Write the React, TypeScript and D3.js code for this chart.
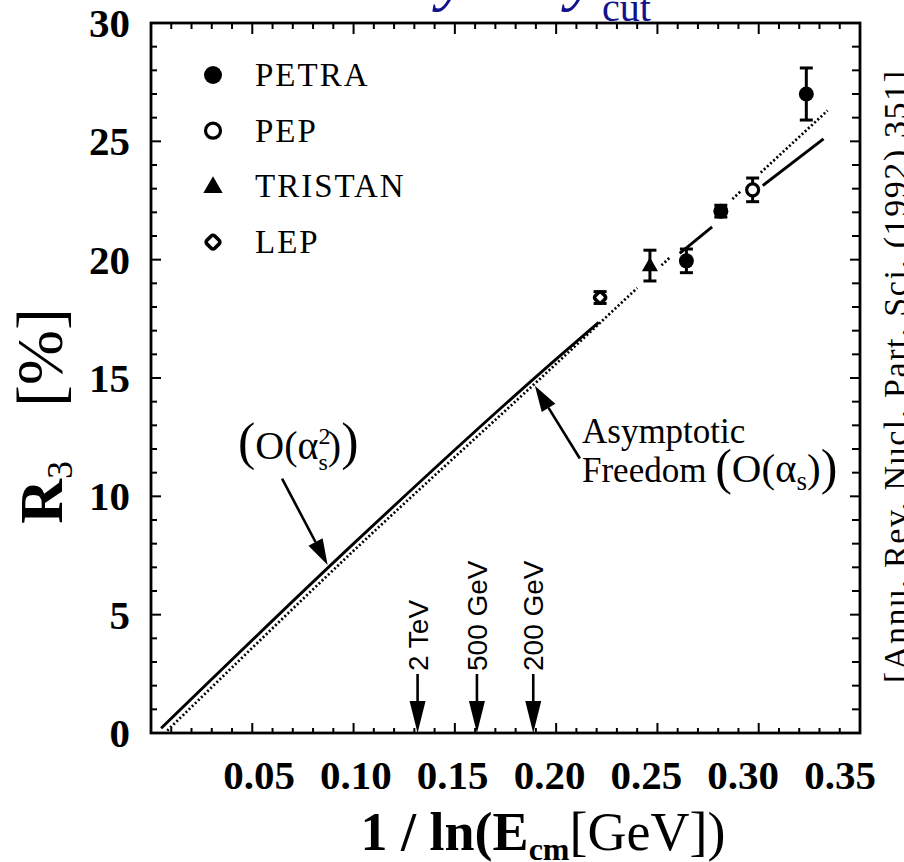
import React from "react";
import * as d3 from "d3";

// ---------- data ----------
const xTickValues = [0.05, 0.1, 0.15, 0.2, 0.25, 0.3, 0.35];
const xTickLabels = ["0.05", "0.10", "0.15", "0.20", "0.25", "0.30", "0.35"];
const yTickValues = [0, 5, 10, 15, 20, 25, 30];
const yTickLabels = ["0", "5", "10", "15", "20", "25", "30"];

const expNames = ["PETRA", "PEP", "TRISTAN", "LEP"];

const pointExp = ["PETRA", "PEP", "PETRA", "PETRA", "TRISTAN", "LEP"];
const pointX = [0.3235, 0.297, 0.2813, 0.2643, 0.2463, 0.2217];
const pointR3 = [27.0, 22.95, 22.05, 19.95, 19.75, 18.4];
const pointErr = [1.1, 0.5, 0.25, 0.5, 0.65, 0.25];

// O(alpha_s^2) curve (solid)
const o2X = [0.005, 0.1, 0.2, 0.25, 0.3, 0.332];
const o2Y = [0.2, 8.0, 15.8, 19.5, 23.0, 25.1];
const o2Visible = [
  [0.005, 0.221],
  [0.261, 0.277],
  [0.302, 0.332],
];
// O(alpha_s) asymptotic freedom curve (dotted)
const o1X = [0.008, 0.1, 0.2, 0.25, 0.3, 0.334];
const o1Y = [0.1, 7.7, 15.6, 19.6, 23.6, 26.3];
const o1Visible = [
  [0.008, 0.24],
  [0.252, 0.256],
  [0.287, 0.291],
  [0.301, 0.334],
];

const energyLabels = ["2 TeV", "500 GeV", "200 GeV"];
const energyX = [0.1316, 0.1609, 0.1887];

// ---------- layout ----------
const W = 904;
const H = 862;
const x = d3.scaleLinear().domain([0, 0.35]).range([151, 860]);
const y = d3.scaleLinear().domain([0, 30]).range([733, 23]);
// tick labels in the original are not exactly under their ticks
const xLabel = d3.scaleLinear().domain([0.05, 0.35]).range([259, 840]);

const SERIF = "'Liberation Serif', 'Times New Roman', serif";
const SANS = "'Liberation Sans', Arial, sans-serif";

function Marker({ exp, cx, cy, s }: { exp: string; cx: number; cy: number; s: number }) {
  if (exp === "PETRA") return <circle cx={cx} cy={cy} r={s / 2} fill="#000" />;
  if (exp === "PEP")
    return <circle cx={cx} cy={cy} r={s / 2 - 1.5} fill="#fff" stroke="#000" strokeWidth={3.2} />;
  if (exp === "TRISTAN") {
    const p = d3.symbol(d3.symbolTriangle, s * s * 0.5)() as string;
    return <path d={p} transform={`translate(${cx},${cy + 1})`} fill="#000" />;
  }
  const a = s * 0.62;
  return (
    <rect
      x={-a / 2}
      y={-a / 2}
      width={a}
      height={a}
      rx={2.5}
      transform={`translate(${cx},${cy}) rotate(45)`}
      fill="#fff"
      stroke="#000"
      strokeWidth={3.6}
    />
  );
}

function segments(xs: number[], ys: number[], vis: number[][]) {
  const f = d3.scaleLinear().domain(xs).range(ys);
  const line = d3
    .line<number>()
    .x((d) => x(d))
    .y((d) => y(f(d)))
    .curve(d3.curveMonotoneX);
  return vis.map(([a, b]) => {
    const pts = [a, ...xs.filter((v) => v > a && v < b), b];
    return line(pts) as string;
  });
}

function Arrow({ x1, y1, x2, y2, hw = 8, hl = 26 }: any) {
  const ang = Math.atan2(y2 - y1, x2 - x1);
  const bx = x2 - hl * Math.cos(ang);
  const by = y2 - hl * Math.sin(ang);
  const px = -Math.sin(ang) * hw;
  const py = Math.cos(ang) * hw;
  return (
    <g>
      <line x1={x1} y1={y1} x2={bx} y2={by} stroke="#000" strokeWidth={2.6} />
      <path d={`M${x2},${y2}L${bx + px},${by + py}L${bx - px},${by - py}Z`} fill="#000" />
    </g>
  );
}

export default function App() {
  const xMinor = d3.range(1, 35).map((i) => i / 100);
  const yMinor = d3.range(1, 30);
  const solid = segments(o2X, o2Y, o2Visible);
  const dotted = segments(o1X, o1Y, o1Visible);
  const fO1 = d3.scaleLinear().domain(o1X).range(o1Y);
  const fO2 = d3.scaleLinear().domain(o2X).range(o2Y);
  const [x0, x1] = x.range();
  const [y0, y1] = y.range();

  return (
    <svg
      width={W}
      height={H}
      viewBox={`0 0 ${W} ${H}`}
      style={{ position: "absolute", left: 0, top: 0, background: "#fff" }}
    >
      <rect width={W} height={H} fill="#fff" />

      {/* title fragment, cut off at top */}
      <g fill="#12128c" fontFamily={SERIF}>
        <text x={438} y={-2} fontSize={68} fontStyle="italic">
          y
        </text>
        <text x={567} y={-2} fontSize={68} fontStyle="italic">
          y
        </text>
        <text x={602} y={21} fontSize={40}>
          cut
        </text>
      </g>

      {/* ticks */}
      <g stroke="#000" strokeWidth={2}>
        {xMinor.map((v) => {
          const major = Math.abs(v * 20 - Math.round(v * 20)) < 1e-6;
          return (
            <g key={"xt" + v}>
              <line x1={x(v)} x2={x(v)} y1={y0} y2={y0 - (major ? 10 : 5)} />
              <line x1={x(v)} x2={x(v)} y1={y1} y2={y1 + (major ? 11 : 6)} />
            </g>
          );
        })}
        {yMinor.map((v) => {
          const major = v % 5 === 0;
          return (
            <g key={"yt" + v}>
              <line x1={x0} x2={x0 + (major ? 10 : 6)} y1={y(v)} y2={y(v)} />
              <line x1={x1} x2={x1 - (major ? 10 : 8)} y1={y(v)} y2={y(v)} />
            </g>
          );
        })}
      </g>

      {/* frame */}
      <rect x={x0} y={y1} width={x1 - x0} height={y0 - y1} fill="none" stroke="#000" strokeWidth={2.8} />

      {/* tick labels */}
      <g fontFamily={SERIF} fontWeight="bold" fill="#000">
        {xTickValues.map((v, i) => (
          <text key={"xl" + i} x={xLabel(v)} y={789} textAnchor="middle" fontSize={41}>
            {xTickLabels[i]}
          </text>
        ))}
        {yTickValues.map((v, i) => (
          <text key={"yl" + i} x={130} y={y(v) + 14} textAnchor="end" fontSize={41}>
            {yTickLabels[i]}
          </text>
        ))}
      </g>

      {/* axis titles */}
      <text x={543} y={850} textAnchor="middle" fontFamily={SERIF} fontSize={54} fill="#000">
        <tspan fontWeight="bold">1 / ln(E</tspan>
        <tspan fontWeight="bold" fontSize={32} dy={10}>
          cm
        </tspan>
        <tspan dy={-10}>[GeV])</tspan>
      </text>
      <text
        transform={`translate(62,416) rotate(-90)`}
        textAnchor="middle"
        fontFamily={SERIF}
        fontSize={62}
        fill="#000"
      >
        <tspan fontWeight="bold">R</tspan>
        <tspan fontSize={36} dy={10}>
          3
        </tspan>
        <tspan dy={-10} dx={54} fontSize={66}>
          [%]
        </tspan>
      </text>

      {/* curves */}
      <g fill="none" stroke="#000">
        {solid.map((d, i) => (
          <path key={"s" + i} d={d} strokeWidth={2.9} />
        ))}
        {dotted.map((d, i) => (
          <path key={"d" + i} d={d} strokeWidth={2.7} strokeDasharray="2 2.3" />
        ))}
      </g>

      {/* data */}
      {pointX.map((px, i) => {
        const cx = x(px);
        const top = y(pointR3[i] + pointErr[i]);
        const bot = y(pointR3[i] - pointErr[i]);
        return (
          <g key={"p" + i}>
            <g stroke="#000" strokeWidth={3}>
              <line x1={cx} x2={cx} y1={top} y2={bot} />
              <line x1={cx - 6.5} x2={cx + 6.5} y1={top} y2={top} />
              <line x1={cx - 6.5} x2={cx + 6.5} y1={bot} y2={bot} />
            </g>
            <Marker exp={pointExp[i]} cx={cx} cy={y(pointR3[i])} s={15} />
          </g>
        );
      })}

      {/* legend */}
      {expNames.map((n, i) => (
        <g key={"lg" + n} transform={`translate(213,${75 + i * 55.7})`}>
          <Marker exp={n} cx={0} cy={0} s={18} />
          <text x={42} y={11} fontFamily={SERIF} fontSize={33} letterSpacing={2} fill="#000">
            {n}
          </text>
        </g>
      ))}

      {/* energy markers */}
      {energyX.map((ev, i) => {
        const cx = x(ev);
        return (
          <g key={"e" + i}>
            <text
              transform={`translate(${cx + 10},671) rotate(-90)`}
              fontFamily={SANS}
              fontSize={28}
              fill="#000"
            >
              {energyLabels[i]}
            </text>
            <Arrow x1={cx} y1={674} x2={cx} y2={y(0)} hw={8} hl={32} />
          </g>
        );
      })}

      {/* annotations */}
      <g fontFamily={SERIF} fill="#000">
        <text x={238} y={459} fontSize={40}>
          <tspan fontSize={52}>(</tspan>
          <tspan>O(α</tspan>
          <tspan fontSize={24} dy={-15}>
            2
          </tspan>
          <tspan fontSize={24} dx={-12} dy={26}>
            s
          </tspan>
          <tspan dy={-11}>)</tspan>
          <tspan fontSize={52}>)</tspan>
        </text>
        <Arrow x1={x(0.0647)} y1={y(10.75)} x2={x(0.0872)} y2={y(fO2(0.0872) + 0.15)} />
        <text x={582} y={443} fontSize={35}>
          Asymptotic
        </text>
        <text x={582} y={482} fontSize={35}>
          <tspan>Freedom </tspan>
          <tspan fontSize={50} dy={2}>
            (
          </tspan>
          <tspan fontSize={41} dy={-2}>
            O(α
          </tspan>
          <tspan fontSize={27} dy={8}>
            s
          </tspan>
          <tspan fontSize={41} dy={-8}>
            )
          </tspan>
          <tspan fontSize={50} dy={2}>
            )
          </tspan>
        </text>
        <Arrow x1={x(0.2117)} y1={y(11.6)} x2={x(0.1895)} y2={y(fO1(0.1895) - 0.1)} />
      </g>

      {/* side citation, cut at right edge */}
      <text
        transform={`translate(907,683) rotate(-90)`}
        fontFamily={SERIF}
        fontSize={34}
        textLength={612}
        lengthAdjust="spacing"
        fill="#000"
      >
        [Annu. Rev. Nucl. Part. Sci. (1992) 351]
      </text>
    </svg>
  );
}
